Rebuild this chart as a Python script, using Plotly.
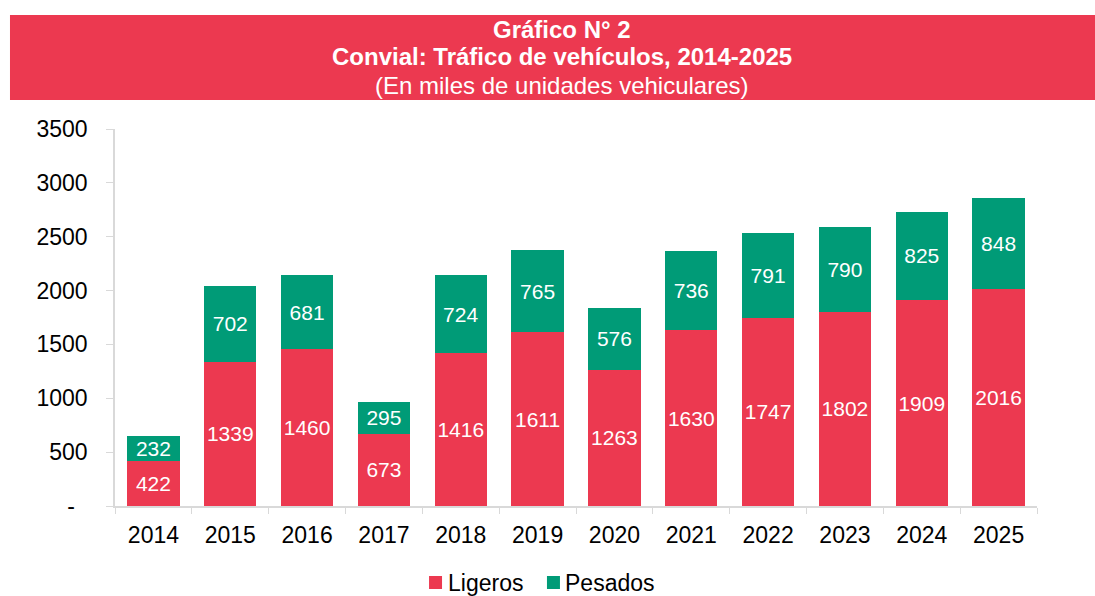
"""Convial: vehicle traffic 2014-2025, stacked bars"""

import plotly.graph_objects as go

years = ["2014", "2015", "2016", "2017", "2018", "2019",
         "2020", "2021", "2022", "2023", "2024", "2025"]
ligeros = [422, 1339, 1460, 673, 1416, 1611, 1263, 1630, 1747, 1802, 1909, 2016]
pesados = [232, 702, 681, 295, 724, 765, 576, 736, 791, 790, 825, 848]

y_ticks = [0, 500, 1000, 1500, 2000, 2500, 3000, 3500]
y_ticktext = ["-\u00a0\u00a0", "500", "1000", "1500", "2000", "2500", "3000", "3500"]

RED = "#EC3950"
GREEN = "#009B77"
FONT = "Liberation Sans, Arial, sans-serif"

fig = go.Figure()
fig.add_bar(x=years, y=ligeros, name="Ligeros", marker_color=RED,
            marker_line_width=0,
            text=ligeros, textposition="inside", insidetextanchor="middle",
            textangle=0, constraintext="none",
            textfont=dict(color="white", size=21, family=FONT))
fig.add_bar(x=years, y=pesados, name="Pesados", marker_color=GREEN,
            marker_line_width=0,
            text=pesados, textposition="inside", insidetextanchor="middle",
            textangle=0, constraintext="none",
            textfont=dict(color="white", size=21, family=FONT))

# Title banner (red box with three lines of text)
fig.add_shape(type="rect", xref="paper", yref="paper",
              x0=-0.1139, x1=1.08, y0=1.0769, y1=1.3024,
              fillcolor=RED, line_width=0, layer="below")
titles = [("<b>Gráfico N° 2</b>", 1.2626),
          ("<b>Convial: Tráfico de vehículos, 2014-2025</b>", 1.1910),
          ("(En miles de unidades vehiculares)", 1.1167)]
for txt, yy in titles:
    fig.add_annotation(text=txt, xref="paper", yref="paper", x=0.4848, y=yy,
                       xanchor="center", yanchor="middle", showarrow=False,
                       font=dict(color="white", size=24, family=FONT))

# Legend drawn by hand so it does not push the bottom margin
legend_items = [("Ligeros", RED, 0.3406, 0.3590),
                ("Pesados", GREEN, 0.4685, 0.4859)]
for name, col, x0, xt in legend_items:
    fig.add_shape(type="rect", xref="paper", yref="paper",
                  x0=x0, x1=x0 + 0.0141, y0=-0.2202, y1=-0.1857,
                  fillcolor=col, line_width=0)
    fig.add_annotation(text=name, xref="paper", yref="paper", x=xt, y=-0.2042,
                       xanchor="left", yanchor="middle", showarrow=False,
                       font=dict(color="black", size=23, family=FONT))

fig.update_layout(
    barmode="stack",
    bargap=0.32,
    width=1095, height=596,
    margin=dict(l=115, r=58, t=129, b=90, autoexpand=False),
    plot_bgcolor="white",
    paper_bgcolor="white",
    font=dict(family=FONT, size=23, color="black"),
    showlegend=False,
)

fig.update_yaxes(range=[0, 3500], tickvals=y_ticks, ticktext=y_ticktext,
                 showgrid=False, zeroline=False, showline=True,
                 linecolor="#d9d9d9", linewidth=1.5, ticks="outside",
                 ticklen=7, tickcolor="#d9d9d9", tickfont=dict(size=23),
                 ticklabelstandoff=14, automargin=False)
fig.update_xaxes(showgrid=False, showline=True, linecolor="#d9d9d9",
                 linewidth=1.5, ticks="outside", tickson="boundaries",
                 ticklen=6, tickcolor="#d9d9d9", tickfont=dict(size=23),
                 ticklabelstandoff=8, automargin=False)

fig.write_html("out.html", config={"displayModeBar": False},
               post_script="document.body.style.margin='0';")
